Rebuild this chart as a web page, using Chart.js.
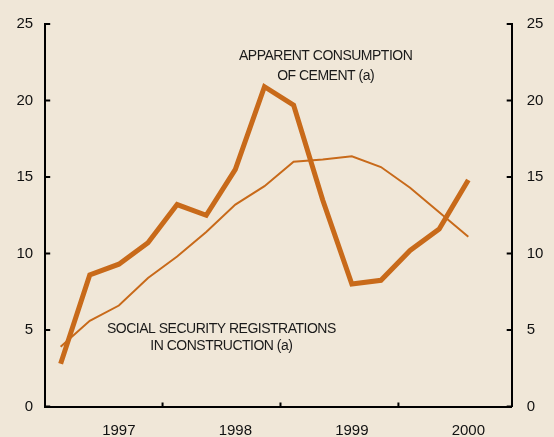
<!DOCTYPE html>
<html>
<head>
<meta charset="utf-8">
<script src="https://cdn.jsdelivr.net/npm/chart.js@4"></script>
<style>
  html, body { margin: 0; padding: 0; background: #F0E7D8; }
  #wrap { width: 554px; height: 437px; position: relative; }
  canvas { display: block; }
</style>
</head>
<body>
<div id="wrap"><canvas id="c" width="554" height="437"></canvas></div>
<script>
// ---- data (quarterly, 1997 Q1 .. 2000 Q3) ----
const quarterIndex = [0,1,2,3,4,5,6,7,8,9,10,11,12,13,14];
const cement =        [2.8, 8.6, 9.3, 10.7, 13.2, 12.5, 15.5, 20.9, 19.7, 13.5, 8.0, 8.25, 10.2, 11.6, 14.8];
const registrations = [3.9, 5.6, 6.6, 8.4, 9.8, 11.4, 13.2, 14.4, 16.0, 16.15, 16.35, 15.65, 14.3, 12.7, 11.1];
const yearLabels = ['1997', '1998', '1999', '2000'];
const yearLabelPos = [2, 6, 10, 14];
const yearTickPos = [3.5, 7.55, 11.6];
const yTicks = [0, 5, 10, 15, 20, 25];
const cementLabel = ['APPARENT CONSUMPTION', 'OF CEMENT (a)'];
const registrationsLabel = ['SOCIAL SECURITY REGISTRATIONS', 'IN CONSTRUCTION (a)'];

const BG = '#F0E7D8';
const ORANGE = '#C86A1A';
const FONT = 'Liberation Sans, Arial, sans-serif';

const toPoints = arr => arr.map((v, i) => ({ x: quarterIndex[i], y: v }));

const bgPlugin = {
  id: 'bg',
  beforeDraw(chart) {
    const ctx = chart.ctx;
    ctx.save();
    ctx.fillStyle = BG;
    ctx.fillRect(0, 0, chart.width, chart.height);
    ctx.restore();
  }
};

const tickPlugin = {
  id: 'innerTicks',
  afterDraw(chart) {
    const ctx = chart.ctx;
    const x = chart.scales.x, y = chart.scales.y;
    const a = chart.chartArea;
    ctx.save();
    ctx.strokeStyle = '#000';
    ctx.lineWidth = 2;
    ctx.beginPath();
    yTicks.forEach(v => {
      const py = y.getPixelForValue(v);
      ctx.moveTo(a.left, py); ctx.lineTo(a.left + 5, py);
      ctx.moveTo(a.right - 5, py); ctx.lineTo(a.right, py);
    });
    yearTickPos.forEach(v => {
      const px = x.getPixelForValue(v);
      ctx.moveTo(px, a.bottom); ctx.lineTo(px, a.bottom - 4);
    });
    ctx.stroke();

    // annotations
    ctx.fillStyle = '#1a1a1a';
    ctx.font = '14px ' + FONT;
    try { ctx.letterSpacing = '-0.5px'; } catch (e) {}
    ctx.textAlign = 'center';
    ctx.textBaseline = 'middle';
    const cx = x.getPixelForValue(9.1), cy = y.getPixelForValue(22.9);
    ctx.fillText(cementLabel[0], cx, cy);
    ctx.fillText(cementLabel[1], cx, cy + 20);
    const rx = x.getPixelForValue(5.52), ry = y.getPixelForValue(5.03);
    ctx.fillText(registrationsLabel[0], rx, ry);
    ctx.fillText(registrationsLabel[1], rx, ry + 16.5);
    ctx.restore();
  }
};

new Chart(document.getElementById('c'), {
  type: 'line',
  data: {
    datasets: [
      {
        label: 'Social security registrations in construction',
        data: toPoints(registrations),
        borderColor: ORANGE,
        borderWidth: 2,
        pointRadius: 0,
        tension: 0,
        fill: false,
        order: 0
      },
      {
        label: 'Apparent consumption of cement',
        data: toPoints(cement),
        borderColor: ORANGE,
        borderWidth: 5,
        pointRadius: 0,
        tension: 0,
        fill: false,
        order: 1
      }
    ]
  },
  options: {
    responsive: false,
    animation: false,
    devicePixelRatio: 1,
    layout: { padding: { top: 22.7, left: 0, right: 0, bottom: 0 } },
    plugins: { legend: { display: false }, tooltip: { enabled: false } },
    scales: {
      x: {
        type: 'linear',
        min: -0.53,
        max: 15.49,
        position: 'bottom',
        grid: { display: false, drawTicks: false },
        border: { display: true, color: '#000', width: 2 },
        afterBuildTicks(scale) { scale.ticks = yearLabelPos.map(v => ({ value: v })); },
        afterFit(scale) { scale.height = 30.5; },
        ticks: {
          autoSkip: false,
          maxRotation: 0,
          padding: 15,
          color: '#111',
          font: { family: FONT, size: 15 },
          callback(value) {
            const i = yearLabelPos.indexOf(value);
            return i >= 0 ? yearLabels[i] : '';
          }
        }
      },
      y: {
        type: 'linear',
        position: 'left',
        min: 0, max: 25,
        grid: { display: false, drawTicks: false },
        border: { display: true, color: '#000', width: 2 },
        afterBuildTicks(scale) { scale.ticks = yTicks.map(v => ({ value: v })); },
        afterFit(scale) { scale.width = 45.2; },
        ticks: { padding: 12, color: '#111', font: { family: FONT, size: 15 } }
      },
      y2: {
        type: 'linear',
        position: 'right',
        min: 0, max: 25,
        grid: { display: false, drawTicks: false },
        border: { display: true, color: '#000', width: 2 },
        afterBuildTicks(scale) { scale.ticks = yTicks.map(v => ({ value: v })); },
        afterFit(scale) { scale.width = 42.3; },
        ticks: { padding: 15, color: '#111', font: { family: FONT, size: 15 } }
      }
    }
  },
  plugins: [bgPlugin, tickPlugin]
});
</script>
</body>
</html>
